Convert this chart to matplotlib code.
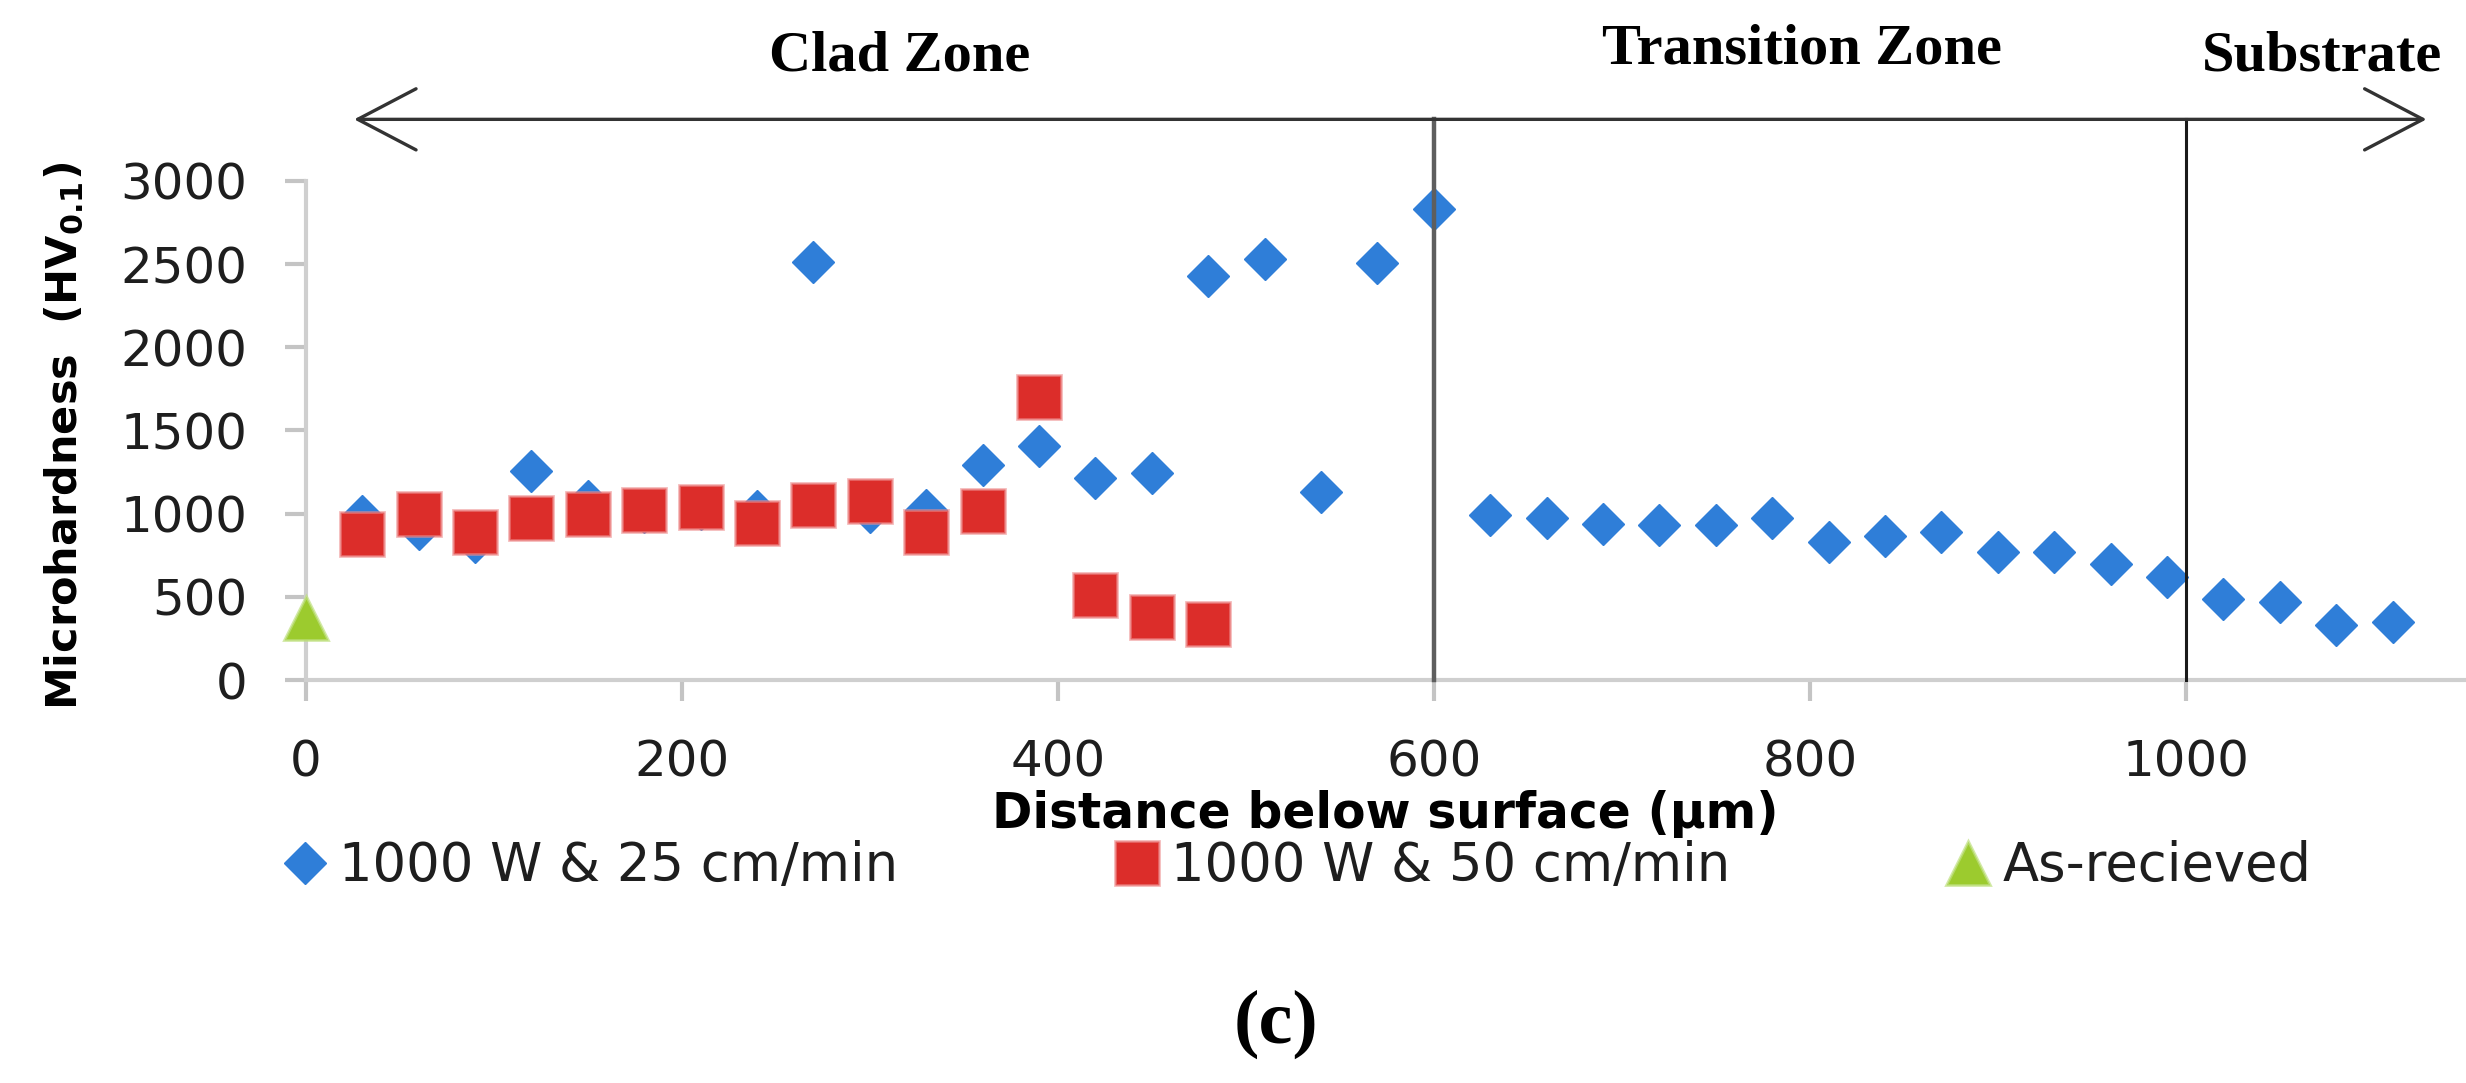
import matplotlib
matplotlib.use('Agg')
import matplotlib.pyplot as plt
import matplotlib.transforms as mtransforms
from matplotlib.patches import FancyArrowPatch

# distance below surface (um) and microhardness (HV0.1)
dist_25 = [30, 60, 90, 120, 150, 180, 210, 240, 270, 300, 330, 360, 390, 420, 450,
           480, 510, 540, 570, 600, 630, 660, 690, 720, 750, 780, 810, 840, 870, 900,
           930, 960, 990, 1020, 1050, 1080, 1110]
hv_25 = [986, 908, 828, 1259, 1076, 1010, 1030, 1016, 2514, 1008, 1020, 1293, 1408, 1213, 1243,
         2428, 2533, 1132, 2507, 2832, 992, 972, 935, 930, 930, 972, 832, 864, 890, 772,
         772, 696, 618, 485, 467, 329, 351]

dist_50 = [30, 60, 90, 120, 150, 180, 210, 240, 270, 300, 330, 360, 390, 420, 450, 480]
hv_50 = [880, 998, 892, 972, 998, 1024, 1040, 946, 1052, 1078, 892, 1018, 1700, 511, 377, 339]

dist_asr = [0]
hv_asr = [370]

series_labels = ['1000 W & 25 cm/min', '1000 W & 50 cm/min', 'As-recieved']
zone_names = ['Clad Zone', 'Transition Zone', 'Substrate']
zone_bounds = [600, 1000]
x_ticks = [0, 200, 400, 600, 800, 1000]
y_ticks = [0, 500, 1000, 1500, 2000, 2500, 3000]

BLUE = '#2F7ED8'
RED = '#DC2D2A'
GREEN = '#9CCB2E'

fig = plt.figure(figsize=(24.66, 10.83), dpi=100)
ax_left, ax_bottom, ax_w, ax_h = 0.124, 0.3721, 0.8752, 0.4608
ax = fig.add_axes([ax_left, ax_bottom, ax_w, ax_h])

h1, = ax.plot(dist_25, hv_25, ls='none', marker='D', ms=21, mfc=BLUE, mec=BLUE,
              mew=1, zorder=3)
h2, = ax.plot(dist_50, hv_50, ls='none', marker='s', ms=32, mfc=RED,
              mec=(0.93, 0.55, 0.55, 0.6), mew=2, zorder=4)
h3, = ax.plot(dist_asr, hv_asr, ls='none', marker='^', ms=31, mfc=GREEN,
              mec=(0.75, 0.88, 0.5, 0.7), mew=2, zorder=5, clip_on=False)

ax.set_xlim(0, 1148)
ax.set_ylim(0, 3000)
ax.set_xticks(x_ticks)
ax.set_yticks(y_ticks)

for s in ['top', 'right']:
    ax.spines[s].set_visible(False)
for s in ['left', 'bottom']:
    ax.spines[s].set_color('#cfcfcf')
    ax.spines[s].set_linewidth(3)
ax.tick_params(axis='both', direction='out', length=15, width=3, color='#c4c4c4',
               pad=27, labelsize=36, labelcolor='#1e1e1e')

ax.set_xlabel('Distance below surface (\u00b5m)', fontsize=35, fontweight='bold')
ax.xaxis.set_label_coords(0.5, -0.22)
ax.set_ylabel(r'Microhardness  (HV$_{\mathbf{0.1}}$)', fontsize=31, fontweight='bold')
ax.yaxis.set_label_coords(-0.102, 0.489)

# zone boundaries, from the x axis up to the arrow
arrow_y = 0.8898
trans = mtransforms.blended_transform_factory(ax.transData, fig.transFigure)
ax.plot([zone_bounds[0]] * 2, [ax_bottom, arrow_y], transform=trans, clip_on=False,
        color='#5e5e5e', lw=3.2, zorder=6)
ax.plot([zone_bounds[1]] * 2, [ax_bottom, arrow_y], transform=trans, clip_on=False,
        color='#1a1a1a', lw=2.2, zorder=6)

arrow = FancyArrowPatch((0.1436, arrow_y), (0.984, arrow_y), transform=fig.transFigure,
                        arrowstyle='<->,head_length=2.1,head_width=1.1', mutation_scale=20,
                        lw=2.4, color='#333333', shrinkA=0, shrinkB=0)
fig.add_artist(arrow)

zone_x = [0.365, 0.7307, 0.9416]
zone_y = [0.935, 0.9418, 0.935]
for name, zx, zy in zip(zone_names, zone_x, zone_y):
    fig.text(zx, zy, name, ha='center', va='baseline', fontsize=42, fontweight='bold',
             family='Liberation Serif')

# legend entries laid out in three equal columns
leg_x = [0.1144, 0.4521, 0.7891]
for h, lab, lx in zip([h1, h2, h3], series_labels, leg_x):
    fig.legend([h], [lab], loc='center left', bbox_to_anchor=(lx, 0.200), frameon=False,
               borderpad=0, borderaxespad=0, handlelength=0.85, handletextpad=0.22,
               fontsize=38, labelcolor='#1e1e1e')

fig.text(0.5176, 0.0545, '(c)', ha='center', va='center', fontsize=55, fontweight='bold',
         family='Liberation Serif')

fig.savefig('out.png', dpi=100)
